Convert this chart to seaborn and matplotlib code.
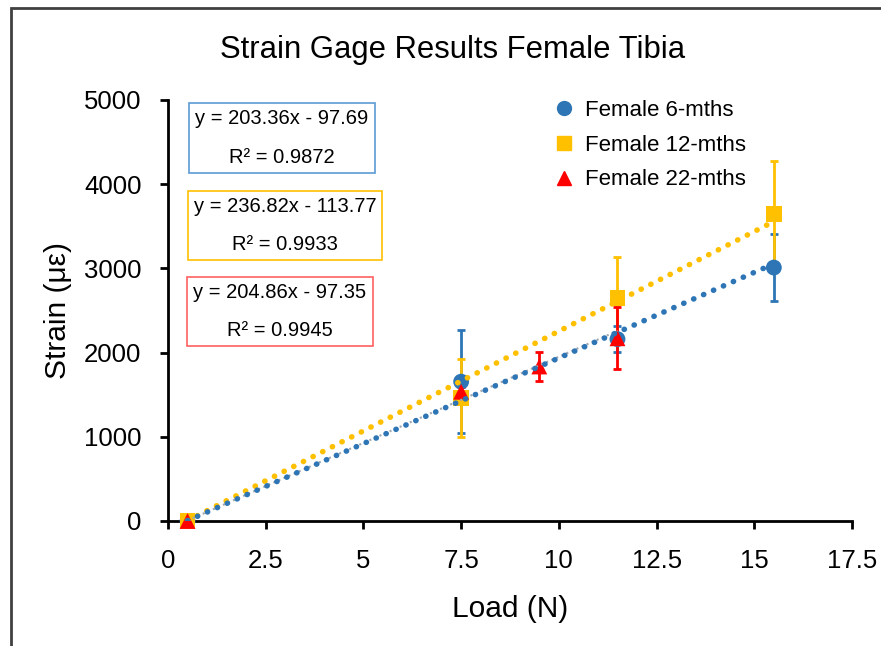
import matplotlib
matplotlib.use("Agg")
import matplotlib.pyplot as plt
import seaborn as sns
import numpy as np
import pandas as pd
from matplotlib.patches import Rectangle
from matplotlib.lines import Line2D

sns.set_theme(style="white")
plt.rcParams['font.family'] = ['Liberation Sans', 'DejaVu Sans']
plt.rcParams['text.color'] = 'black'
plt.rcParams['axes.labelcolor'] = 'black'

# ---- data ----
series_names = ["Female 6-mths", "Female 12-mths", "Female 22-mths"]
load_6 = [0.5, 7.5, 11.5, 15.5]
strain_6 = [0, 1655, 2160, 3010]
err_6 = [0, 610, 150, 400]
load_12 = [0.5, 7.5, 11.5, 15.5]
strain_12 = [0, 1460, 2645, 3650]
err_12 = [0, 460, 490, 630]
load_22 = [0.5, 7.5, 9.5, 11.5]
strain_22 = [0, 1535, 1835, 2170]
err_22 = [0, 60, 175, 370]
slopes = [203.36, 236.82, 204.86]
intercepts = [-97.69, -113.77, -97.35]
r2 = [0.9872, 0.9933, 0.9945]
x_ticks = [0, 2.5, 5, 7.5, 10, 12.5, 15, 17.5]
x_tick_labels = ["0", "2.5", "5", "7.5", "10", "12.5", "15", "17.5"]
y_ticks = [0, 1000, 2000, 3000, 4000, 5000]

colors = ["#2E75B6", "#FFC000", "#FF0000"]
line_colors = ["#2E75B6", "#FFC000", "#A0A8B0"]
markers = ["o", "s", "^"]
box_colors = ["#5B9BD5", "#FFC000", "#FF6060"]

df = pd.concat([
    pd.DataFrame({"Load": load_6, "Strain": strain_6, "err": err_6, "Series": series_names[0]}),
    pd.DataFrame({"Load": load_12, "Strain": strain_12, "err": err_12, "Series": series_names[1]}),
    pd.DataFrame({"Load": load_22, "Strain": strain_22, "err": err_22, "Series": series_names[2]}),
], ignore_index=True)

fig = plt.figure(figsize=(8.81, 6.46), dpi=100)
ax = fig.add_axes([168/881, 1-521/646, (852-168)/881, (521-100)/646])

# error bars
for name, c in zip(series_names, colors):
    d = df[df.Series == name]
    ax.errorbar(d.Load, d.Strain, yerr=d.err, fmt="none", ecolor=c,
                elinewidth=2, capsize=3, capthick=2, zorder=2, clip_on=False)

# markers
sns.scatterplot(data=df, x="Load", y="Strain", hue="Series", style="Series",
                palette=dict(zip(series_names, colors)),
                markers=dict(zip(series_names, markers)),
                s=130, edgecolor="none", ax=ax, zorder=3, clip_on=False, legend=False)

# trendlines
for i in [2, 1, 0]:
    d = df[df.Series == series_names[i]]
    xs = np.array([d.Load.min(), d.Load.max()])
    ys = slopes[i] * xs + intercepts[i]
    if i == 2:
        ax.plot(xs, ys, linestyle=":", color=line_colors[i], lw=1.5, zorder=4)
    else:
        ax.plot(xs, ys, linestyle=(0, (0.05, 1.9)), color=line_colors[i],
                lw=4, dash_capstyle="round", zorder=4)

ax.set_xlim(0, 17.5)
ax.set_ylim(0, 5000)
ax.set_xticks(x_ticks)
ax.set_xticklabels(x_tick_labels)
ax.set_yticks(y_ticks)
ax.tick_params(axis="both", direction="out", length=6, width=2, colors="black",
               labelsize=18.5, bottom=True, left=True)
ax.tick_params(axis="x", pad=14)
ax.tick_params(axis="y", pad=13)
for s in ["top", "right"]:
    ax.spines[s].set_visible(False)
for s in ["left", "bottom"]:
    ax.spines[s].set_color("black")
    ax.spines[s].set_linewidth(2)
ax.set_xlabel("Load (N)", fontsize=21.5, labelpad=16)
ax.set_ylabel("Strain (με)", fontsize=21.5, labelpad=8.5)
fig.text(453/881, 1-50/646, "Strain Gage Results Female Tibia", ha="center", va="center",
         fontsize=22.3)

# legend
handles = [Line2D([], [], marker=m, color=c, linestyle="none", markersize=10)
           for m, c in zip(markers, colors)]
leg = ax.legend(handles, series_names, loc="upper left", bbox_to_anchor=(0.53, 1.048),
                frameon=False, fontsize=16, handletextpad=0.35, labelspacing=0.62,
                handlelength=1.2)

# equation boxes
box_y = [138, 225.5, 311.5]
box_x = [282, 285, 280]
for i in range(3):
    fig.text(box_x[i]/881, 1-box_y[i]/646,
             f"y = {slopes[i]:.2f}x - {abs(intercepts[i]):.2f}\nR² = {r2[i]:.4f}",
             ha="center", va="center", fontsize=14.5, linespacing=2.3,
             multialignment="center",
             bbox=dict(boxstyle="square,pad=0.3", fc="white", ec=box_colors[i], lw=1.2))

# outer frame
fig.patches.append(Rectangle((11/881, -0.5), 2, 0.5 + 1 - 8/646, transform=fig.transFigure,
                             fill=False, ec="#404040", lw=2))

fig.savefig("out.png", dpi=100)
